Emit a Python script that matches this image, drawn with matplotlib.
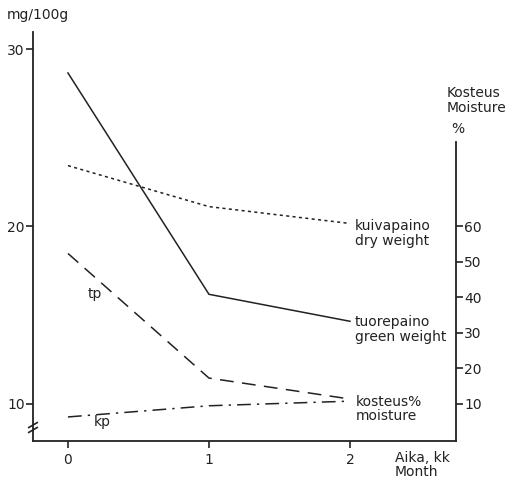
import matplotlib
matplotlib.use("Agg")
import matplotlib.pyplot as plt
from matplotlib.lines import Line2D

# Storage time in months
months = [0, 1, 2]

# Content, mg/100 g
green_weight = [28.65, 16.18, 14.66]   # tuorepaino
dry_weight = [23.43, 21.12, 20.17]     # kuivapaino

# Moisture, %
moisture_tp = [52.4, 17.3, 11.4]
moisture_kp = [6.35, 9.5, 10.8]

left_ticks = [10, 20, 30]
right_ticks = [10, 20, 30, 40, 50, 60]
x_ticks = [0, 1, 2]

INK = "#222222"
FS = 10
plt.rcParams["font.family"] = ["DejaVu Sans"]

fig = plt.figure(figsize=(5.21, 4.82), dpi=100)
ax = fig.add_axes([33 / 521, 41 / 482, (456 - 33) / 521, (441 - 32) / 482])

ylo, yhi = 7.915, 30.958
ax.set_xlim(-0.248, 2.752)
ax.set_ylim(ylo, yhi)

ax.plot(months, green_weight, color=INK, lw=1.1, solid_joinstyle="miter")
ax.plot(months, dry_weight, color=INK, lw=1.1, dashes=(2, 2.2))

# moisture axis: 10 % sits on 10 mg, 60 % on 20 mg
ax2 = ax.twinx()
ax2.set_ylim(5 * ylo - 40, 5 * yhi - 40)
ax2.plot(months, moisture_tp, color=INK, lw=1.1, dashes=(9, 5.5))
ax2.plot(months, moisture_kp, color=INK, lw=1.1, dashes=(9, 4, 1.5, 4))

for a in (ax, ax2):
    a.spines["top"].set_visible(False)
    for s in a.spines.values():
        s.set_linewidth(1.3)
        s.set_color(INK)
ax.spines["right"].set_visible(False)
ax2.spines["left"].set_visible(False)
ax2.spines["bottom"].set_visible(False)
ax2.spines["right"].set_bounds(5 * ylo - 40, 83.7)

ax.set_xticks(x_ticks)
ax.set_xticklabels([str(v) for v in x_ticks])
ax.set_yticks(left_ticks)
ax.set_yticklabels([str(v) for v in left_ticks])
ax2.set_yticks(right_ticks)
ax2.set_yticklabels([str(v) for v in right_ticks])
ax.tick_params(direction="out", length=5, width=1.2, color=INK,
               labelsize=FS, labelcolor=INK, pad=1)
ax2.tick_params(direction="out", length=5, width=1.2, color=INK,
                labelsize=FS, labelcolor=INK, pad=1)
ax.tick_params(axis="x", pad=4)

# axis break marks on the left spine
ax.add_line(Line2D([0, 0], [0.027, 0.039], transform=ax.transAxes,
                   color="white", lw=2.5, clip_on=False))
for yb in (0.039, 0.027):
    ax.add_line(Line2D([-0.010, 0.010], [yb - 0.006, yb + 0.006],
                       transform=ax.transAxes, color=INK, lw=1.2,
                       clip_on=False))

# texts
kw = dict(fontsize=FS, color=INK, transform=fig.transFigure)
def ftxt(x, y, s, **k):
    fig.text(x / 521, 1 - y / 482, s, va="center", ha="left", **kw, **k)

ftxt(7, 15, "mg/100g")
ftxt(355, 226, "kuivapaino")
ftxt(355, 241, "dry weight")
ftxt(355, 322, "tuorepaino")
ftxt(355, 337, "green weight")
ftxt(356, 402, "kosteus%")
ftxt(356, 416, "moisture")
ftxt(447, 93, "Kosteus")
ftxt(447, 108, "Moisture")
ftxt(451, 129, "%")
ftxt(395, 458, "Aika, kk")
ftxt(395, 472, "Month")
ftxt(88, 294, "tp")
ftxt(94, 422, "kp")

fig.savefig("out.png", dpi=100)
